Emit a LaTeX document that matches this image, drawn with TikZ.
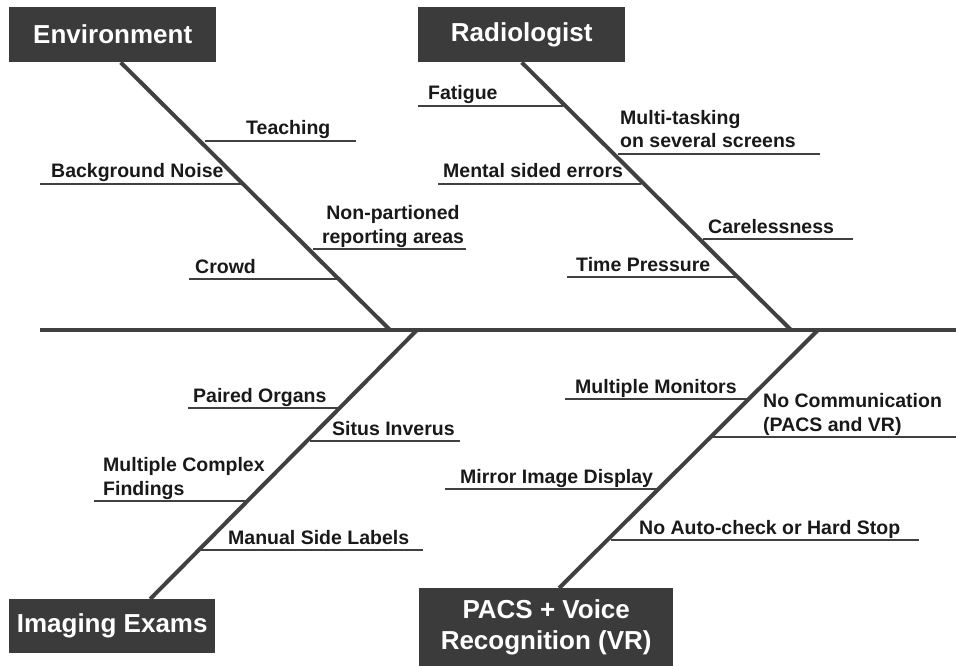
\documentclass[tikz,border=0pt]{standalone}
\usepackage{fontspec}
\setmainfont{Liberation Sans}
\usepackage{xcolor}
\usepackage{tikz}
\usetikzlibrary{positioning,calc}
\definecolor{boxgray}{HTML}{3B3B3B}
\definecolor{linegray}{HTML}{404040}
\tikzset{
	box/.style={fill=boxgray,text=white,inner sep=0pt,anchor=north west,align=center,
		font=\fontsize{26}{31}\selectfont\bfseries},
	spine/.style={draw=linegray,line width=4.5pt},
	bone/.style={draw=linegray,line width=4pt},
	rib/.style={draw=linegray,line width=2.8pt},
	lbl/.style={inner sep=0pt,text=black!90,font=\fontsize{19.5}{24}\selectfont\bfseries}
}

\begin{document}
\begin{tikzpicture}[x=1pt,y=-1pt]
	
	\useasboundingbox (0,0) rectangle (956,666);
	
	%Boites
	\node[box,minimum width=207,minimum height=55] (env) at (9,7) {Environment};
	\node[box,minimum width=207,minimum height=55] (rad) at (418,7) {Radiologist};
	\node[box,minimum width=206,minimum height=54] (img) at (9,599) {Imaging Exams};
	\node[box,minimum width=254,minimum height=79] (pacs) at (419,588) {PACS + Voice\\Recognition (VR)};
	
	%Arete centrale
	\coordinate (sL) at (40,330);
	\coordinate (sR) at (956,330);
	\draw[spine] (sL) -- (sR);
	
	%Aretes
	\coordinate (jEnv) at (390,330);
	\coordinate (jRad) at (791,330);
	\coordinate (jImg) at (417,330);
	\coordinate (jPacs) at (818,330);
	\draw[bone] ($(env.south)+(8,0)$) -- (jEnv);
	\draw[bone] (rad.south) -- (jRad);
	\draw[bone] ($(img.north)+(38,0)$) -- (jImg);
	\draw[bone] ($(pacs.north)+(13,0)$) -- (jPacs);
	
	%Causes
	\foreach \n/\xa/\xb/\yy/\xt/\an/\al/\txt in {
		teach/205/356/141/246/base west/left/{Teaching},
		noise/40/242/184/51/base west/left/{Background Noise},
		areas/313/466/249/393/base/center/{Non-partioned\\reporting areas},
		crowd/189/338/279/195/base west/left/{Crowd},
		fatig/418/563/106/428/base west/left/{Fatigue},
		multi/618/820/154/620/base west/left/{Multi-tasking\\on several screens},
		ment/438/641/184/443/base west/left/{Mental sided errors},
		care/703/853/239/708/base west/left/{Carelessness},
		time/567/736/277/576/base west/left/{Time Pressure},
		pair/188/339/408/193/base west/left/{Paired Organs},
		situs/310/460/441/332/base west/left/{Situs Inverus},
		compl/94/246/501/103/base west/left/{Multiple Complex\\Findings},
		manu/200/423/550/228/base west/left/{Manual Side Labels},
		moni/565/748/399/575/base west/left/{Multiple Monitors},
		comm/713/956/437/763/base west/left/{No Communication\\(PACS and VR)},
		mirr/445/658/489/460/base west/left/{Mirror Image Display},
		auto/611/919/540/639/base west/left/{No Auto-check or Hard Stop}} {
		\coordinate (\n-a) at (\xa,\yy);
		\coordinate (\n-b) at (\xb,\yy);
		\draw[rib] (\n-a) -- (\n-b);
		\node[lbl,anchor=\an,align=\al] (\n) at (\xt,\yy-6) {\txt};
	}
	
\end{tikzpicture}
\end{document}
